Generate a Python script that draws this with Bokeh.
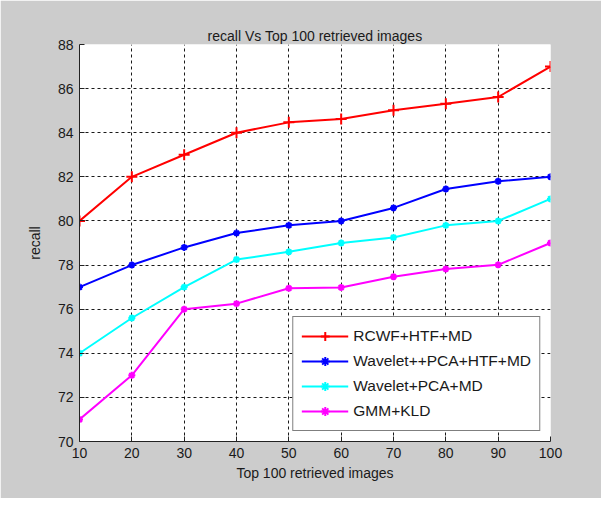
from bokeh.plotting import figure
from bokeh.models import Range1d, FixedTicker, Legend, LegendItem
from bokeh.embed import file_html
from bokeh.resources import INLINE

x_vals = [10, 20, 30, 40, 50, 60, 70, 80, 90, 100]
rcwf = [80.0, 82.0, 83.0, 84.0, 84.47, 84.62, 85.02, 85.31, 85.62, 87.0]
wavelet_pp = [77.0, 78.0, 78.8, 79.45, 79.8, 80.0, 80.59, 81.45, 81.8, 82.0]
wavelet_pca = [74.0, 75.6, 77.0, 78.25, 78.6, 79.0, 79.25, 79.8, 80.0, 81.0]
gmm = [71.0, 73.0, 76.0, 76.25, 76.95, 76.98, 77.47, 77.82, 78.01, 79.0]

x_ticks = [10, 20, 30, 40, 50, 60, 70, 80, 90, 100]
y_ticks = [70, 72, 74, 76, 78, 80, 82, 84, 86, 88]

series_names = ["RCWF+HTF+MD", "Wavelet++PCA+HTF+MD", "Wavelet+PCA+MD", "GMM+KLD"]
colors = ["#FF0000", "#0000FF", "#00FFFF", "#FF00FF"]

FONT = "Liberation Sans"

p = figure(width=601, height=498, output_backend="svg", toolbar_location=None,
           x_range=Range1d(10, 100), y_range=Range1d(70, 88),
           min_border_left=79, min_border_right=51, min_border_top=44, min_border_bottom=57,
           title="recall Vs Top 100 retrieved images")
p.border_fill_color = "#CCCCCC"
p.background_fill_color = "white"
p.outline_line_color = None

p.title.align = "center"
p.title.text_font = FONT
p.title.text_font_size = "14px"
p.title.text_font_style = "normal"
p.title.text_color = "#1a1a1a"
p.title.standoff = 2

for ax, ticks in ((p.xaxis[0], x_ticks), (p.yaxis[0], y_ticks)):
    ax.ticker = FixedTicker(ticks=ticks)
    ax.major_tick_in = 5
    ax.major_tick_out = 0
    ax.minor_tick_line_color = None
    ax.axis_line_color = "#222222"
    ax.major_tick_line_color = "#222222"
    ax.major_label_text_font = FONT
    ax.major_label_text_font_size = "14px"
    ax.major_label_text_color = "#1a1a1a"
    ax.axis_label_text_font = FONT
    ax.axis_label_text_font_size = "14px"
    ax.axis_label_text_font_style = "normal"
    ax.axis_label_text_color = "#1a1a1a"
    ax.major_label_standoff = 6

p.xaxis.axis_label = "Top 100 retrieved images"
p.yaxis.axis_label = "recall"
p.xaxis.axis_label_standoff = 4
p.yaxis.axis_label_standoff = 12
p.yaxis.major_label_orientation = "horizontal"

for g in (p.xgrid[0], p.ygrid[0]):
    g.grid_line_color = "black"
    g.grid_line_dash = "3 3"
    g.grid_line_width = 1
    g.grid_line_alpha = 0.9

items = []
all_series = [rcwf, wavelet_pp, wavelet_pca, gmm]
for name, ys, c in zip(series_names, all_series, colors):
    ln = p.line(x_vals, ys, line_color=c, line_width=2)
    if name == "RCWF+HTF+MD":
        mk = p.scatter(x_vals, ys, marker="cross", size=11, line_color=c, line_width=2)
    else:
        mk = p.scatter(x_vals, ys, marker="asterisk", size=7, line_color=c, line_width=2)
    items.append(LegendItem(label=name, renderers=[ln, mk]))

legend = Legend(items=items, location="bottom_right")
legend.label_text_font = FONT
legend.label_text_font_size = "15.5px"
legend.label_text_color = "#1a1a1a"
legend.border_line_color = "black"
legend.border_line_width = 1
legend.background_fill_color = "white"
legend.background_fill_alpha = 1
legend.glyph_width = 47
legend.glyph_height = 22
legend.label_height = 22
legend.spacing = 3
legend.padding = 8
legend.margin = 10
legend.label_standoff = 5
p.add_layout(legend, "center")

open("out.html", "w").write(file_html(p, INLINE))
